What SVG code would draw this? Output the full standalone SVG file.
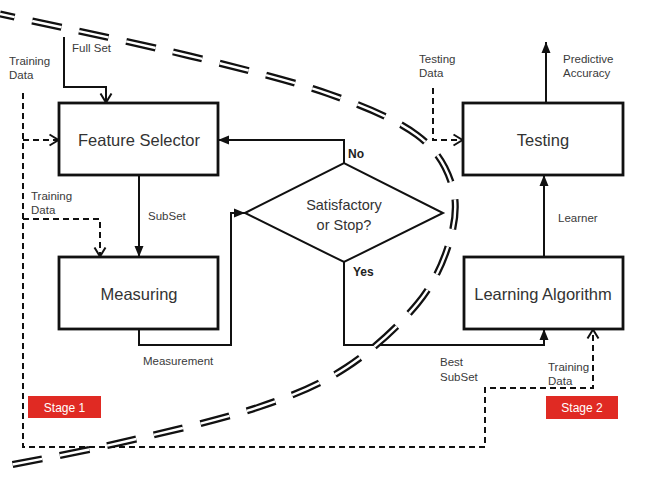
<svg xmlns="http://www.w3.org/2000/svg" width="649" height="490" viewBox="0 0 649 490">
<style>
.box{fill:#fff;stroke:#111;stroke-width:2.8}
.dia{fill:#fff;stroke:#111;stroke-width:2}
.big{font-family:"Liberation Sans",Arial,sans-serif;font-size:16.5px;fill:#333;text-anchor:middle}
.mid{font-family:"Liberation Sans",Arial,sans-serif;font-size:14.5px;fill:#333;text-anchor:middle}
.lbl{font-family:"Liberation Sans",Arial,sans-serif;font-size:11.5px;fill:#3a3a3a}
.bold{font-family:"Liberation Sans",Arial,sans-serif;font-size:12px;font-weight:bold;fill:#222}
.stage{font-family:"Liberation Sans",Arial,sans-serif;font-size:12px;fill:#fff;text-anchor:middle}
.solid{fill:none;stroke:#111;stroke-width:2;marker-end:url(#fill)}
.plain{fill:none;stroke:#111;stroke-width:2}
.dash{fill:none;stroke:#111;stroke-width:2;stroke-dasharray:6 4}
.curveB{fill:none;stroke:#111;stroke-width:7;stroke-dasharray:30 18;stroke-dashoffset:15}
.curveW{fill:none;stroke:#fff;stroke-width:2.4;stroke-dasharray:30 18;stroke-dashoffset:15}
</style>
<defs>
<marker id="fill" markerUnits="userSpaceOnUse" markerWidth="12" markerHeight="12" viewBox="0 0 12 12" refX="11" refY="6" orient="auto">
<path d="M0,1.5 L11,6 L0,10.5 Z" fill="#111"/>
</marker>
<marker id="open" markerUnits="userSpaceOnUse" markerWidth="12" markerHeight="14" viewBox="0 0 12 14" refX="10.5" refY="7" orient="auto">
<path d="M1,1.5 L10,7 L1,12.5" fill="none" stroke="#111" stroke-width="2" stroke-dasharray="none"/>
</marker>
<path id="sep" d="M0,14 C31.7,21 135.2,42.7 190,56 C244.8,69.3 291.2,80.8 329,94 C366.8,107.2 396.5,119.8 417,135 C437.5,150.2 446.5,167.5 452,185 C457.5,202.5 455.7,220.3 450,240 C444.3,259.7 435.2,281.8 418,303 C400.8,324.2 373.5,349.7 347,367 C320.5,384.3 297,394.3 259,407 C221,419.7 162.2,433 119,443 C75.8,453 19.8,463 0,467"/>
</defs>
<rect width="649" height="490" fill="#fff"/>

<g id="connectors">
<path class="plain" d="M64,37 V87 H106 V103" marker-end="url(#open)"/>
<path class="dash" d="M23,93 V447 H485 V388 H593 V329" marker-end="url(#open)"/>
<path class="dash" d="M23,140 H59" marker-end="url(#open)"/>
<path class="dash" d="M23,219 H100 V257" marker-end="url(#open)"/>
<path class="solid" d="M139,175 V257"/>
<path class="solid" d="M139,329 V345 H231 V213 H245"/>
<path class="solid" d="M344,163 V140 H218"/>
<path class="solid" d="M344,262 V345 H544 V329"/>
<path class="solid" d="M544,257 V175"/>
<path class="solid" d="M546,103 V42"/>
<path class="dash" d="M433,88 V140 H463" marker-end="url(#open)"/>
</g>

<g id="labels">
<text class="lbl" x="72" y="52">Full Set</text>
<text class="lbl" x="9" y="65">Training</text>
<text class="lbl" x="9" y="79">Data</text>
<text class="lbl" x="31" y="200">Training</text>
<text class="lbl" x="31" y="214">Data</text>
<text class="lbl" x="148" y="220">SubSet</text>
<text class="lbl" x="143" y="365">Measurement</text>
<text class="bold" x="348" y="158">No</text>
<text class="bold" x="353" y="276">Yes</text>
<text class="lbl" x="440" y="366">Best</text>
<text class="lbl" x="440" y="381">SubSet</text>
<text class="lbl" x="548" y="371">Training</text>
<text class="lbl" x="548" y="385">Data</text>
<text class="lbl" x="558" y="222">Learner</text>
<text class="lbl" x="419" y="63">Testing</text>
<text class="lbl" x="419" y="77">Data</text>
<text class="lbl" x="563" y="63">Predictive</text>
<text class="lbl" x="563" y="77">Accuracy</text>
</g>

<g id="feature-selector">
<rect class="box" x="59" y="103" width="159" height="72"/>
<text class="big" x="139" y="146">Feature Selector</text>
</g>
<g id="measuring">
<rect class="box" x="59" y="257" width="159" height="72"/>
<text class="big" x="139" y="300">Measuring</text>
</g>
<g id="decision">
<polygon class="dia" points="245,213 344,163 443,213 344,262"/>
<text class="mid" x="344" y="210">Satisfactory</text>
<text class="mid" x="344" y="230">or Stop?</text>
</g>
<g id="testing">
<rect class="box" x="463" y="103" width="160" height="72"/>
<text class="big" x="543" y="146">Testing</text>
</g>
<g id="learning-algorithm">
<rect class="box" x="464" y="257" width="159" height="72"/>
<text class="big" x="543" y="300">Learning Algorithm</text>
</g>
<g id="stage1">
<rect x="28" y="396" width="73" height="22" fill="#e02a23"/>
<text class="stage" x="64.5" y="412">Stage 1</text>
</g>
<g id="stage2">
<rect x="546" y="396" width="72" height="23" fill="#e02a23"/>
<text class="stage" x="582" y="412">Stage 2</text>
</g>

<g id="separator">
<use href="#sep" class="curveB"/>
<use href="#sep" class="curveW"/>
</g>
</svg>
